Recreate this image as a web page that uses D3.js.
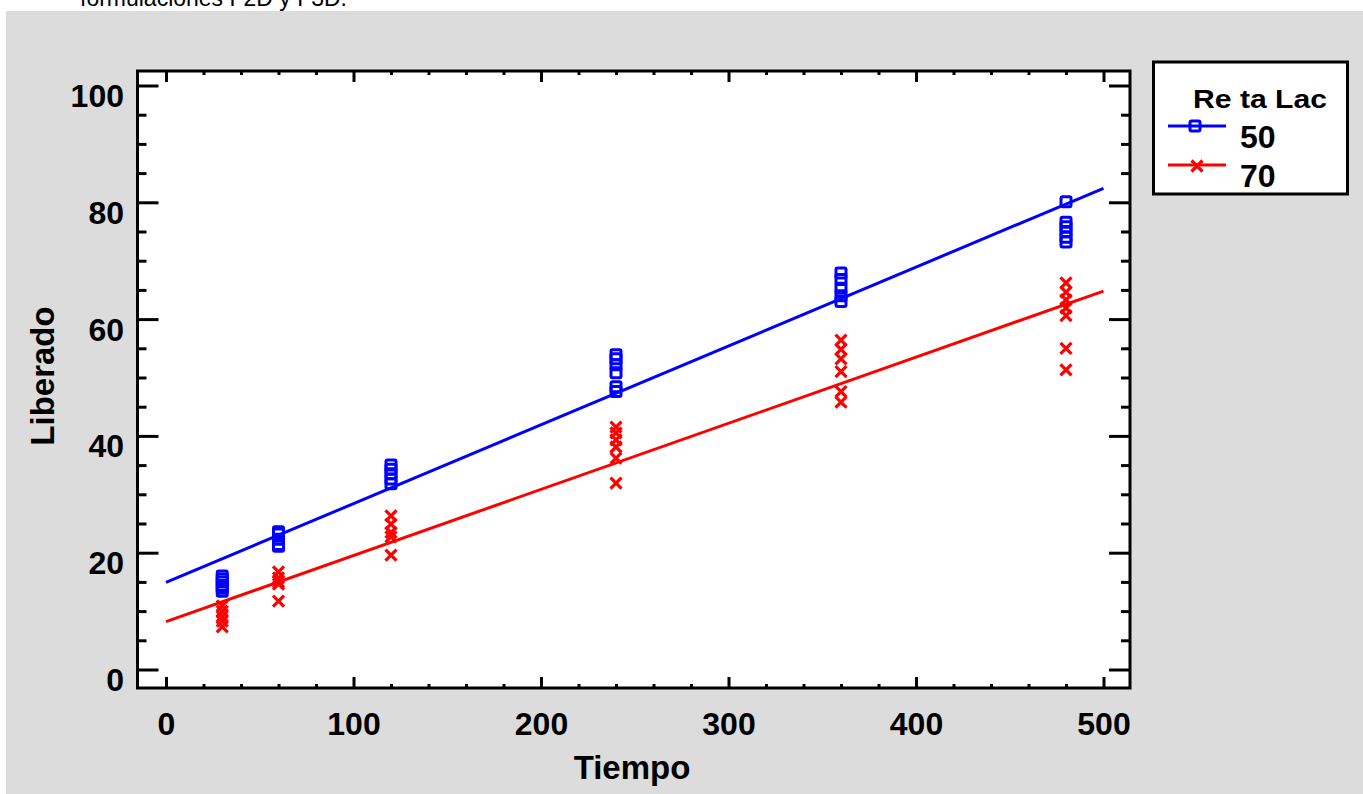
<!DOCTYPE html>
<html>
<head>
<meta charset="utf-8">
<script src="https://cdn.jsdelivr.net/npm/d3@7"></script>
<style>
  body { margin: 0; background: #ffffff; }
  svg { display: block; }
  text { font-family: "Liberation Sans", Arial, sans-serif; }
</style>
</head>
<body>
<svg id="chart" width="1363" height="794"></svg>
<script>
// ---- data ----
const times = [30, 60, 120, 240, 360, 480];
const seriesNames = ["50", "70"];
const series50 = [
  [16.0, 15.5, 15.0, 14.4, 13.9, 13.4],
  [23.6, 23.2, 22.3, 21.4, 21.1],
  [35.0, 34.3, 33.5, 32.6, 31.8],
  [53.9, 53.2, 52.2, 50.8, 48.4, 47.6],
  [67.9, 66.8, 65.3, 64.0, 63.0],
  [80.1, 76.6, 75.8, 75.0, 74.0, 73.2]
];
const series70 = [
  [10.9, 10.0, 9.1, 8.3, 7.3],
  [16.7, 15.7, 15.0, 14.6, 11.7],
  [26.3, 24.9, 23.5, 22.7, 19.6],
  [41.5, 40.5, 39.3, 38.1, 36.2, 31.9],
  [56.4, 54.8, 53.2, 51.0, 47.6, 45.8],
  [66.2, 64.6, 63.3, 61.9, 60.6, 55.0, 51.3]
];
const intercepts = [14.9, 8.2];
const slopes = [0.135, 0.1132];
const xTicks = [0, 100, 200, 300, 400, 500];
const yTicks = [0, 20, 40, 60, 80, 100];
const colors = ["#0000ff", "#ff0000"];

// ---- layout ----
const svg = d3.select("#chart");
const frame = {l: 137.5, r: 1130, t: 71, b: 688};
const x = d3.scaleLinear().domain([0, 500]).range([166, 1103.5]);
const y = d3.scaleLinear().domain([0, 100]).range([669.5, 85.5]);

// background
svg.append("rect").attr("x", 6).attr("y", 11).attr("width", 1363 - 6).attr("height", 794 - 11).attr("fill", "#dcdcdc");
svg.append("text").attr("x", 80).attr("y", 6).attr("font-size", 24).attr("fill", "#000")
  .attr("textLength", 267).attr("lengthAdjust", "spacingAndGlyphs")
  .text("formulaciones F2D y F3D.");

// plot area
svg.append("rect").attr("x", frame.l).attr("y", frame.t)
  .attr("width", frame.r - frame.l).attr("height", frame.b - frame.t)
  .attr("fill", "#fff");

// axes
function styleAxis(g) {
  g.select(".domain").remove();
  g.selectAll(".tick line").attr("stroke", "#000").attr("stroke-width", 3);
  g.selectAll("text").attr("font-size", 32).attr("font-weight", "bold").attr("fill", "#000")
    .attr("font-family", "'Liberation Sans', Arial, sans-serif");
}
const xMinor = d3.range(0, 501, 20).filter(v => v % 100 !== 0);
const yMinor = d3.range(0, 101, 5).filter(v => v % 20 !== 0);

// bottom
svg.append("g").attr("transform", `translate(0,${frame.b})`)
  .call(d3.axisBottom(x).tickValues(xTicks).tickSize(-11).tickPadding(24).tickFormat(d3.format("d")))
  .call(styleAxis)
  .selectAll("text").attr("dy", "0.71em");
svg.append("g").attr("transform", `translate(0,${frame.b})`)
  .call(d3.axisBottom(x).tickValues(xMinor).tickSize(-4).tickFormat(""))
  .call(styleAxis);
// top
svg.append("g").attr("transform", `translate(0,${frame.t})`)
  .call(d3.axisTop(x).tickValues(xTicks).tickSize(-11).tickFormat(""))
  .call(styleAxis);
svg.append("g").attr("transform", `translate(0,${frame.t})`)
  .call(d3.axisTop(x).tickValues(xMinor).tickSize(-4).tickFormat(""))
  .call(styleAxis);
// left
const gl = svg.append("g").attr("transform", `translate(${frame.l},0)`)
  .call(d3.axisLeft(y).tickValues(yTicks).tickSize(-21).tickPadding(13.5).tickFormat(d3.format("d")))
  .call(styleAxis);
gl.selectAll("text").attr("dy", 21).attr("x", 124 - frame.l);
svg.append("g").attr("transform", `translate(${frame.l},0)`)
  .call(d3.axisLeft(y).tickValues(yMinor).tickSize(-9).tickFormat(""))
  .call(styleAxis);
// right
svg.append("g").attr("transform", `translate(${frame.r},0)`)
  .call(d3.axisRight(y).tickValues(yTicks).tickSize(-21).tickFormat(""))
  .call(styleAxis);
svg.append("g").attr("transform", `translate(${frame.r},0)`)
  .call(d3.axisRight(y).tickValues(yMinor).tickSize(-9).tickFormat(""))
  .call(styleAxis);

// frame border
svg.append("rect").attr("x", frame.l).attr("y", frame.t)
  .attr("width", frame.r - frame.l).attr("height", frame.b - frame.t)
  .attr("fill", "none").attr("stroke", "#000").attr("stroke-width", 3);

// axis titles
svg.append("text").attr("x", 632).attr("y", 779).attr("text-anchor", "middle")
  .attr("font-size", 33).attr("font-weight", "bold").text("Tiempo");
svg.append("text").attr("transform", "translate(54,376) rotate(-90)").attr("text-anchor", "middle")
  .attr("font-size", 33).attr("font-weight", "bold").text("Liberado");

// fitted lines
const line = d3.line().x(d => x(d[0])).y(d => y(d[1]));
[0, 1].forEach(i => {
  const pts = [0, 500].map(t => [t, intercepts[i] + slopes[i] * t]);
  svg.append("path").attr("d", line(pts)).attr("fill", "none")
    .attr("stroke", colors[i]).attr("stroke-width", 3);
});

// markers
function square(g, cx, cy, c) {
  g.append("rect").attr("x", cx - 5).attr("y", cy - 5).attr("width", 10).attr("height", 10)
    .attr("rx", 1.5).attr("fill", "none").attr("stroke", c).attr("stroke-width", 3);
}
function cross(g, cx, cy, c) {
  const s = 5.5;
  g.append("path").attr("d", `M${cx - s},${cy - s}L${cx + s},${cy + s}M${cx - s},${cy + s}L${cx + s},${cy - s}`)
    .attr("stroke", c).attr("stroke-width", 3.2).attr("fill", "none");
}
const gm = svg.append("g");
series50.forEach((vals, i) => vals.forEach(v => square(gm, x(times[i]), y(v), colors[0])));
series70.forEach((vals, i) => vals.forEach(v => cross(gm, x(times[i]), y(v), colors[1])));

// legend
const lg = svg.append("g");
lg.append("rect").attr("x", 1153.5).attr("y", 62).attr("width", 194).attr("height", 132)
  .attr("fill", "#fff").attr("stroke", "#000").attr("stroke-width", 3);
lg.append("text").attr("x", 1193).attr("y", 108).attr("font-size", 26).attr("font-weight", "bold")
  .attr("textLength", 134).attr("lengthAdjust", "spacingAndGlyphs").text("Re ta Lac");
const legY = [126, 165];
const textY = [148, 187];
seriesNames.forEach((n, i) => {
  lg.append("line").attr("x1", 1168).attr("x2", 1226).attr("y1", legY[i]).attr("y2", legY[i])
    .attr("stroke", colors[i]).attr("stroke-width", 3);
  if (i === 0) square(lg, 1195, legY[i], colors[i]); else cross(lg, 1197, legY[i] + 1, colors[i]);
  lg.append("text").attr("x", 1240).attr("y", textY[i]).attr("font-size", 32).attr("font-weight", "bold").text(n);
});
</script>
</body>
</html>
